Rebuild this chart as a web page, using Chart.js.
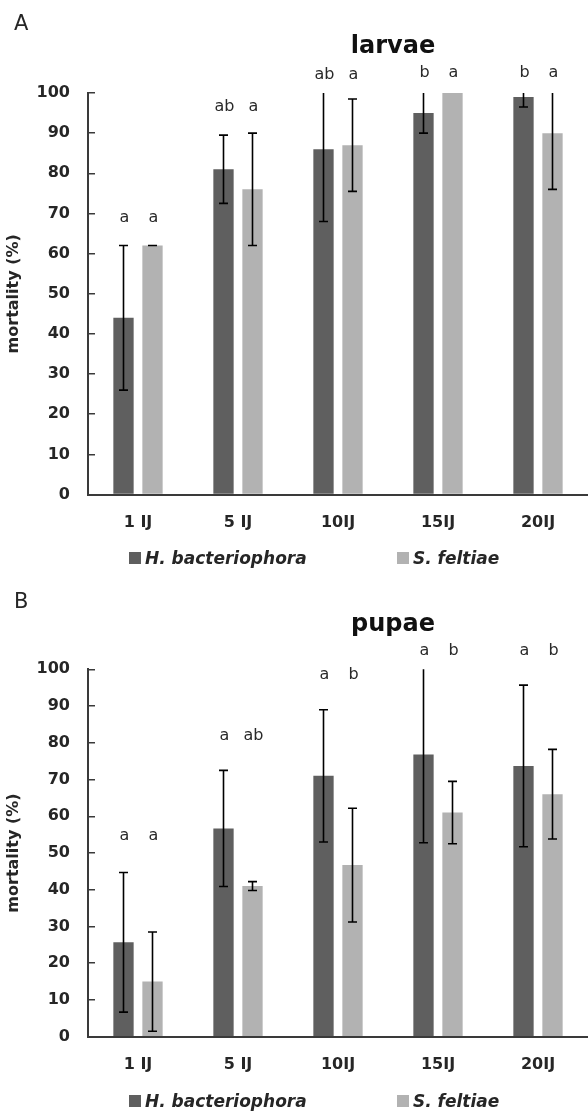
<!DOCTYPE html>
<html lang="en">
<head>
<meta charset="UTF-8">
<title>Mortality of larvae and pupae</title>
<script src="https://cdn.jsdelivr.net/npm/chart.js@4.4.0/dist/chart.umd.min.js"></script>
<style>
  body { margin: 0; background: #fff; font-family: "DejaVu Sans", sans-serif; color: #262626; }
  .panel { position: absolute; left: 0; width: 588px; }
  .tag { position: absolute; left: 14px; font-size: 21px; line-height: 24px; }
  .title { position: absolute; left: 293px; width: 200px; text-align: center; font-size: 24px; font-weight: bold; line-height: 30px; color: #111; }
  .key { position: absolute; font-size: 17px; font-weight: bold; font-style: italic; line-height: 20px; white-space: nowrap; }
  .key i { position: absolute; left: -16px; top: 4px; width: 12px; height: 12px; }
  canvas { position: absolute; left: 0; top: 0; }
</style>
</head>
<body>
  <div class="panel" style="top:0;height:580px">
    <canvas id="larvaeChart" width="588" height="580"></canvas>
    <div class="tag" style="top:11px">A</div>
    <div class="title" style="top:30px">larvae</div>
    <div class="key" style="left:145px;top:548px"><i class="k0"></i>H. bacteriophora</div>
    <div class="key" style="left:413px;top:548px"><i class="k1"></i>S. feltiae</div>
  </div>
  <div class="panel" style="top:580px;height:535px">
    <canvas id="pupaeChart" width="588" height="535"></canvas>
    <div class="tag" style="top:9px">B</div>
    <div class="title" style="top:28px">pupae</div>
    <div class="key" style="left:145px;top:511px"><i class="k0"></i>H. bacteriophora</div>
    <div class="key" style="left:413px;top:511px"><i class="k1"></i>S. feltiae</div>
  </div>

<script>
// data
const categories = ['1 IJ', '5 IJ', '10IJ', '15IJ', '20IJ'];
const seriesNames = ['H. bacteriophora', 'S. feltiae'];
const yMax = 100;
const yStep = 10;

const larvaeHb = [44, 81, 86, 95, 99];
const larvaeHbErr = [18, 8.5, 18, 5, 2.5];
const larvaeSf = [62, 76, 87, 100, 90];
const larvaeSfErr = [0, 14, 11.5, null, 14];
const larvaeHbLetters = ['a', 'ab', 'ab', 'b', 'b'];
const larvaeSfLetters = ['a', 'a', 'a', 'a', 'a'];
const larvaeLetterLevel = [69, 96.5, 104.5, 105, 105];

const pupaeHb = [25.7, 56.7, 71, 76.8, 73.7];
const pupaeHbErr = [19, 15.8, 18, 24, 22];
const pupaeSf = [15, 41, 46.7, 61, 66];
const pupaeSfErr = [13.5, 1.2, 15.5, 8.5, 12.2];
const pupaeHbLetters = ['a', 'a', 'a', 'a', 'a'];
const pupaeSfLetters = ['a', 'ab', 'b', 'b', 'b'];
const pupaeLetterLevel = [54.8, 82, 98.5, 105, 105];

const colors = ['#5f5f5f', '#b2b2b2'];
const axisColor = '#3a3a3a';

document.querySelectorAll('.k0').forEach(el => el.style.background = colors[0]);
document.querySelectorAll('.k1').forEach(el => el.style.background = colors[1]);

Chart.defaults.font.family = '"DejaVu Sans", sans-serif';
Chart.defaults.color = '#262626';

// error bars (clipped at the axis max like the original) + significance letters
const errorBars = {
    id: 'errorBars',
    afterDatasetsDraw(chart, args, opts) {
        const ctx = chart.ctx;
        const y = chart.scales.y;
        ctx.save();
        ctx.strokeStyle = '#000';
        ctx.lineWidth = 1.6;
        chart.data.datasets.forEach((ds, i) => {
            chart.getDatasetMeta(i).data.forEach((bar, j) => {
                const e = ds.errors[j];
                if (e == null) return;
                const hi = ds.data[j] + e;
                const lo = Math.max(ds.data[j] - e, y.min);
                const top = y.getPixelForValue(Math.min(hi, y.max));
                const bot = y.getPixelForValue(lo);
                ctx.beginPath();
                ctx.moveTo(bar.x, top);
                ctx.lineTo(bar.x, bot);
                if (hi < y.max) {
                    ctx.moveTo(bar.x - 4.5, top);
                    ctx.lineTo(bar.x + 4.5, top);
                }
                ctx.moveTo(bar.x - 4.5, bot);
                ctx.lineTo(bar.x + 4.5, bot);
                ctx.stroke();
            });
        });
        ctx.fillStyle = '#2a2a2a';
        ctx.font = '16px "DejaVu Sans"';
        ctx.textAlign = 'center';
        ctx.textBaseline = 'middle';
        chart.data.datasets.forEach((ds, i) => {
            chart.getDatasetMeta(i).data.forEach((bar, j) => {
                ctx.fillText(ds.letters[j], bar.x + 1, y.getPixelForValue(opts.levels[j]));
            });
        });
        ctx.restore();
    }
};

const makeChart = (id, hb, hbErr, hbLetters, sf, sfErr, sfLetters, levels, padTop, xHeight) => {
    new Chart(document.getElementById(id), {
        type: 'bar',
        data: {
            labels: categories,
            datasets: [
                { label: seriesNames[0], data: hb, errors: hbErr, letters: hbLetters, backgroundColor: colors[0] },
                { label: seriesNames[1], data: sf, errors: sfErr, letters: sfLetters, backgroundColor: colors[1] }
            ]
        },
        options: {
            responsive: false,
            animation: false,
            categoryPercentage: 0.58,
            barPercentage: 0.7,
            layout: { padding: { top: padTop, right: 0, bottom: 0, left: 0 } },
            plugins: {
                legend: { display: false },
                tooltip: { enabled: false },
                errorBars: { levels }
            },
            scales: {
                x: {
                    grid: { drawOnChartArea: false, drawTicks: false },
                    border: { display: true, color: axisColor, width: 2 },
                    ticks: { padding: 19, font: { size: 16, weight: 'bold' }, maxRotation: 0 },
                    afterFit: s => { s.height = xHeight; }
                },
                y: {
                    min: 0,
                    max: yMax,
                    grid: { drawOnChartArea: false, drawTicks: true, tickLength: -7, color: axisColor, lineWidth: 1.5 },
                    border: { display: true, color: axisColor, width: 2 },
                    ticks: { stepSize: yStep, padding: 25, font: { size: 16, weight: 'bold' } },
                    title: { display: true, text: 'mortality (%)', padding: { top: 4, bottom: 0 }, font: { size: 16, weight: 'bold' } },
                    afterFit: s => { s.width = 88; }
                }
            }
        },
        plugins: [errorBars]
    });
};

makeChart('larvaeChart', larvaeHb, larvaeHbErr, larvaeHbLetters, larvaeSf, larvaeSfErr, larvaeSfLetters, larvaeLetterLevel, 93, 85.5);
makeChart('pupaeChart', pupaeHb, pupaeHbErr, pupaeHbLetters, pupaeSf, pupaeSfErr, pupaeSfLetters, pupaeLetterLevel, 89.3, 78.3);
</script>
</body>
</html>
